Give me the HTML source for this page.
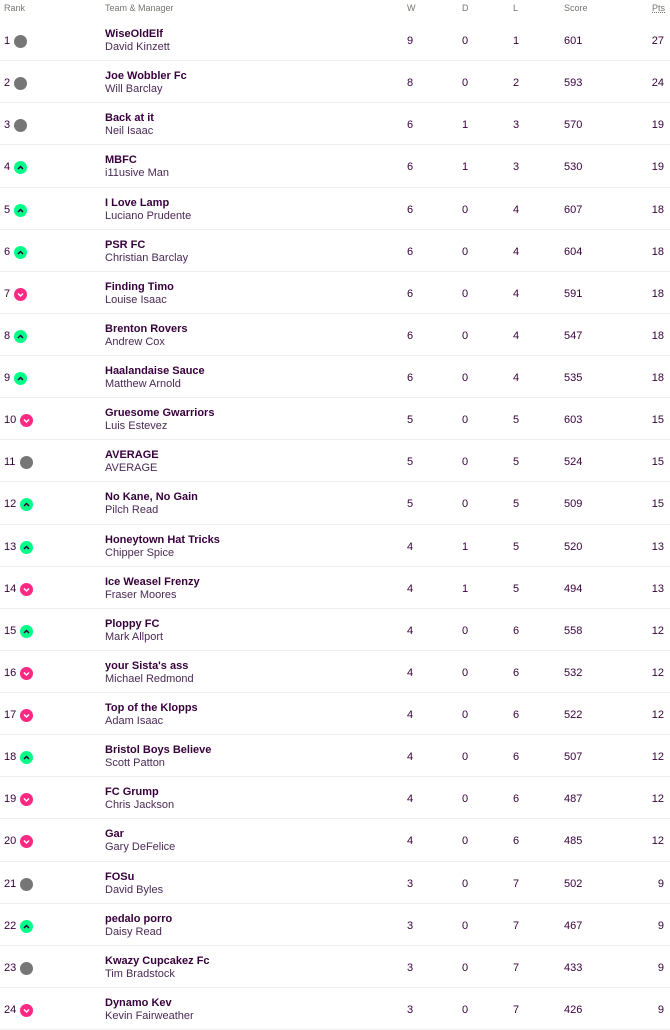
<!DOCTYPE html>
<html><head><meta charset="utf-8"><style>
*{margin:0;padding:0;box-sizing:border-box}
body{width:670px;height:1023px;background:#fff;font-family:"Liberation Sans",sans-serif;color:#37003c;position:relative;overflow:hidden}
.h{position:absolute;top:3px;font-size:9px;color:#76766f}
.r{position:absolute;left:0;width:670px;height:42.13px;border-bottom:1px solid #efefef}
.r span{position:absolute;font-size:11px}
.rk{left:4px;top:16px}
.ic{position:absolute;left:14px;top:16px;width:13px;height:13px;border-radius:50%;background:#767676}
.up{background:#00ff87}.dn{background:#ff2882}
.ic svg{position:absolute;left:3px;top:3px}
.t{left:105px;top:9px;font-weight:bold}
.m{left:105px;top:22px;color:#4a2a55}
.w{left:407px;top:16px}.d{left:462px;top:16px}.l{left:513px;top:16px}.s{left:564px;top:16px}
.p{right:6px;top:16px}
</style></head><body>
<div class="h" style="left:4px">Rank</div>
<div class="h" style="left:105px">Team &amp; Manager</div>
<div class="h" style="left:407px">W</div>
<div class="h" style="left:462px">D</div>
<div class="h" style="left:513px">L</div>
<div class="h" style="left:564px">Score</div>
<div class="h" style="left:652px;text-decoration:underline dotted">Pts</div>
<div id="c"></div>
<script>
var d=[["n","WiseOldElf","David Kinzett",9,0,1,601,27],["n","Joe Wobbler Fc","Will Barclay",8,0,2,593,24],["n","Back at it","Neil Isaac",6,1,3,570,19],["u","MBFC","i11usive Man",6,1,3,530,19],["u","I Love Lamp","Luciano Prudente",6,0,4,607,18],["u","PSR FC","Christian Barclay",6,0,4,604,18],["d","Finding Timo","Louise Isaac",6,0,4,591,18],["u","Brenton Rovers","Andrew Cox",6,0,4,547,18],["u","Haalandaise Sauce","Matthew Arnold",6,0,4,535,18],["d","Gruesome Gwarriors","Luis Estevez",5,0,5,603,15],["n","AVERAGE","AVERAGE",5,0,5,524,15],["u","No Kane, No Gain","Pilch Read",5,0,5,509,15],["u","Honeytown Hat Tricks","Chipper Spice",4,1,5,520,13],["d","Ice Weasel Frenzy","Fraser Moores",4,1,5,494,13],["u","Ploppy FC","Mark Allport",4,0,6,558,12],["d","your Sista's ass","Michael Redmond",4,0,6,532,12],["d","Top of the Klopps","Adam Isaac",4,0,6,522,12],["u","Bristol Boys Believe","Scott Patton",4,0,6,507,12],["d","FC Grump","Chris Jackson",4,0,6,487,12],["d","Gar","Gary DeFelice",4,0,6,485,12],["n","FOSu","David Byles",3,0,7,502,9],["u","pedalo porro","Daisy Read",3,0,7,467,9],["n","Kwazy Cupcakez Fc","Tim Bradstock",3,0,7,433,9],["d","Dynamo Kev","Kevin Fairweather",3,0,7,426,9]];
var h="";d.forEach(function(r,i){var top=19+i*42.13;var k=i+1;var il=k>=10?20:14;
var ic='<div class="ic '+(r[0]=="u"?"up":r[0]=="d"?"dn":"")+'" style="left:'+il+'px">'+(r[0]=="u"?'<svg width="7" height="7"><path d="M1 5 L3.5 2.5 L6 5" stroke="#37003c" stroke-width="1.5" fill="none"/></svg>':r[0]=="d"?'<svg width="7" height="7"><path d="M1 2.5 L3.5 5 L6 2.5" stroke="#fff" stroke-width="1.5" fill="none"/></svg>':'')+'</div>';
h+='<div class="r" style="top:'+top+'px"><span class="rk">'+k+'</span>'+ic+'<span class="t">'+r[1]+'</span><span class="m">'+r[2]+'</span><span class="w">'+r[3]+'</span><span class="d">'+r[4]+'</span><span class="l">'+r[5]+'</span><span class="s">'+r[6]+'</span><span class="p">'+r[7]+'</span></div>';});
document.getElementById("c").innerHTML=h;
</script>
</body></html>
